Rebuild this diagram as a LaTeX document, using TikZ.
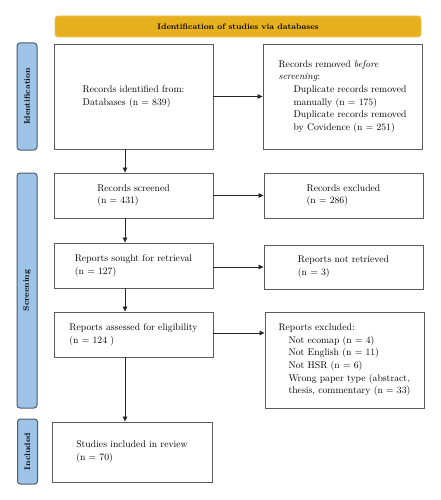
\documentclass[tikz,border=0pt]{standalone}
\usetikzlibrary{arrows.meta}
\definecolor{bannerfill}{HTML}{E6B01E}
\definecolor{bannerline}{HTML}{E9C35A}
\definecolor{sidefill}{HTML}{9DC3E6}
\definecolor{sideline}{HTML}{4A5A70}
\definecolor{boxline}{HTML}{5A5A5A}
\tikzset{
  box/.style={draw=boxline, line width=0.9pt, fill=white, align=left, inner sep=0pt,
              font=\fontsize{9.7}{12.6}\selectfont},
  side/.style={draw=sideline, fill=sidefill, line width=1pt, rounded corners=3pt,
               rotate=90, minimum height=20pt, inner sep=0pt, font=\fontsize{8}{9}\selectfont\bfseries},
  banner/.style={fill=bannerfill, draw=bannerline, line width=0.8pt, rounded corners=3pt,
                 minimum width=366pt, minimum height=21pt, inner sep=0pt, font=\fontsize{8}{9}\selectfont\bfseries},
  arr/.style={-{Triangle[length=5pt,width=4.5pt]}, line width=0.8pt, black!85}
}
\begin{document}
\begin{tikzpicture}[x=1pt,y=-1pt]
\useasboundingbox (0,0) rectangle (440,500);
\node[banner] (ban) at (238,26.5) {Identification of studies via databases};

\node[side, minimum width=107pt] (sid) at (27,96.5) {Identification};
\node[side, minimum width=235pt] (sscr) at (27,290.5) {Screening};
\node[side, minimum width=65pt] (sinc) at (27.5,451.5) {Included};

\node[box, minimum width=159pt, minimum height=105pt] (b1) at (133.5,96.5)
  {Records identified from:\\Databases (n = 839)};
\node[box, minimum width=159pt, minimum height=105pt] (r1) at (342.5,96.5)
  {Records removed \textit{before}\\\textit{screening}:\\
   \hspace*{15pt}Duplicate records removed\\
   \hspace*{15pt}manually (n = 175)\\
   \hspace*{15pt}Duplicate records removed\\
   \hspace*{15pt}by Covidence (n = 251)};

\node[box, minimum width=159pt, minimum height=45pt] (b2) at (133.5,195.5)
  {Records screened\\(n = 431)};
\node[box, minimum width=159pt, minimum height=45pt] (r2) at (343.5,195.5)
  {Records excluded\\(n = 286)};

\node[box, minimum width=159pt, minimum height=45pt] (b3) at (133.5,265.5)
  {Reports sought for retrieval\\(n = 127)};
\node[box, minimum width=159pt, minimum height=44pt] (r3) at (343.5,267)
  {Reports not retrieved\\(n = 3)};

\node[box, minimum width=159pt, minimum height=45pt] (b4) at (133.5,334.5)
  {Reports assessed for eligibility\\(n = 124 )};
\node[box, minimum width=159pt, minimum height=96pt] (r4) at (344.5,360)
  {Reports excluded:\\
   \hspace*{10pt}Not ecomap (n = 4)\\
   \hspace*{10pt}Not English (n = 11)\\
   \hspace*{10pt}Not HSR (n = 6)\\
   \hspace*{10pt}Wrong paper type (abstract,\\
   \hspace*{10pt}thesis, commentary (n = 33)};

\node[box, minimum width=160pt, minimum height=60pt] (b5) at (132,452)
  {Studies included in review\\(n = 70)};

\draw[arr] (b1.east) -- (r1.west);
\draw[arr] (b2.east) -- (r2.west);
\draw[arr] (b3.east |- r3.west) -- (r3.west);
\draw[arr] ([yshift=1.5pt]b4.east) -- ([yshift=1.5pt]b4.east -| r4.west);

\draw[arr] ([xshift=-8.5pt]b1.south) -- ([xshift=-8.5pt]b2.north);
\draw[arr] ([xshift=-8.5pt]b2.south) -- ([xshift=-8.5pt]b3.north);
\draw[arr] ([xshift=-8.5pt]b3.south) -- ([xshift=-8.5pt]b4.north);
\draw[arr] ([xshift=-8.5pt]b4.south) -- ([xshift=-8.5pt]b4.south |- b5.north);
\end{tikzpicture}
\end{document}
